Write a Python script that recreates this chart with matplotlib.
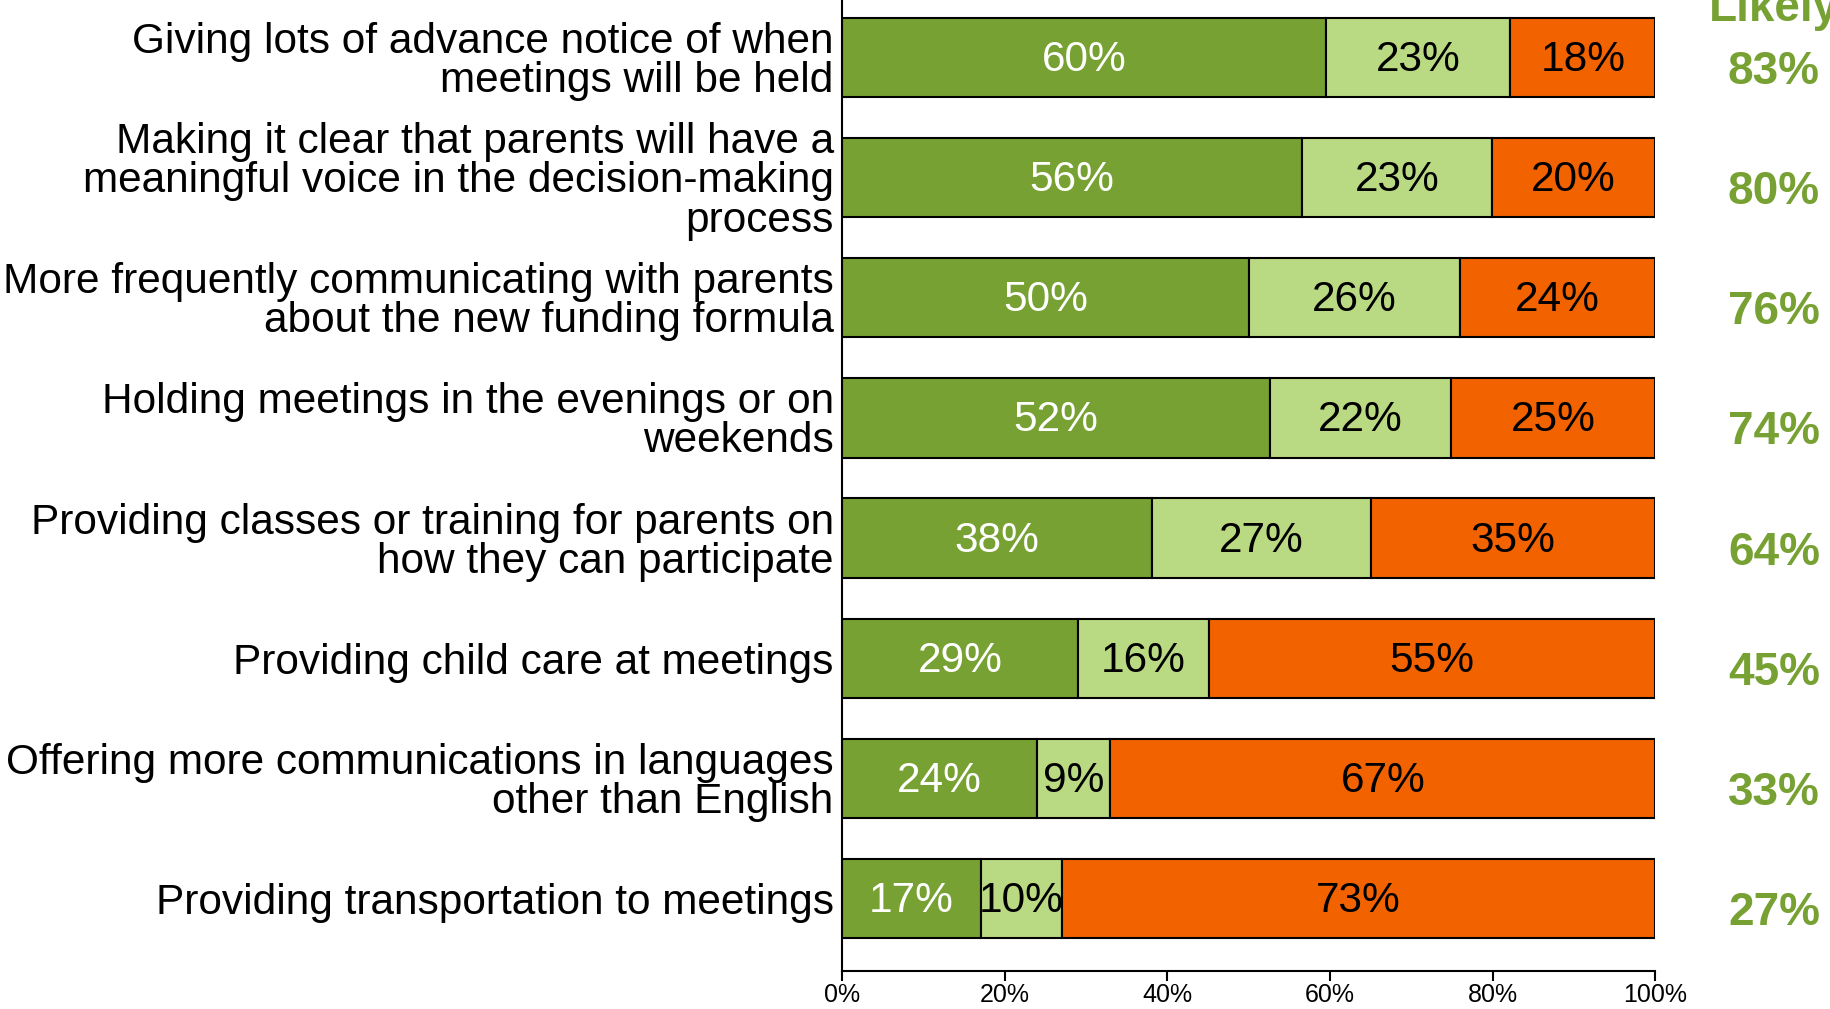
import matplotlib
matplotlib.use("Agg")
import matplotlib.pyplot as plt
import numpy as np

plt.rcParams['font.family'] = ['Liberation Sans', 'DejaVu Sans']

# categories, top to bottom
categories = [
    "Giving lots of advance notice of when\nmeetings will be held",
    "Making it clear that parents will have a\nmeaningful voice in the decision-making\nprocess",
    "More frequently communicating with parents\nabout the new funding formula",
    "Holding meetings in the evenings or on\nweekends",
    "Providing classes or training for parents on\nhow they can participate",
    "Providing child care at meetings",
    "Offering more communications in languages\nother than English",
    "Providing transportation to meetings",
]

# segment widths
very_likely = [59.5, 56.6, 50.0, 52.6, 38.1, 29.0, 24.0, 17.1]
somewhat_likely = [22.7, 23.3, 26.0, 22.3, 27.0, 16.1, 9.0, 9.9]
not_likely = [17.8, 20.1, 24.0, 25.1, 34.9, 54.9, 67.0, 73.0]

# printed labels
very_labels = [60, 56, 50, 52, 38, 29, 24, 17]
somewhat_labels = [23, 23, 26, 22, 27, 16, 9, 10]
not_labels = [18, 20, 24, 25, 35, 55, 67, 73]
likely_total = [83, 80, 76, 74, 64, 45, 33, 27]

c_dark = "#77A132"
c_light = "#B9D982"
c_orange = "#F26300"

fig = plt.figure(figsize=(18.31, 10.09), dpi=100)
ax = fig.add_axes([0.4599, 0.0377, 0.4441, 0.9623])

y = np.arange(len(categories))
h = 0.66
segs = [(very_likely, very_labels, c_dark, "white"),
        (somewhat_likely, somewhat_labels, c_light, "black"),
        (not_likely, not_labels, c_orange, "black")]
left = np.zeros(len(categories))
for vals, labs, col, tcol in segs:
    vals = np.array(vals)
    ax.barh(y, vals, left=left, height=h, color=col, edgecolor="black", linewidth=1.5)
    for yi, l, v, lab in zip(y, left, vals, labs):
        ax.text(l + v / 2, yi + 0.02, f"{lab}%", ha="center", va="center",
                color=tcol, fontsize=30.5)
    left += vals

ax.set_xlim(0, 100)
ax.set_ylim(7.6, -0.476)
ax.set_yticks(y)
ax.set_yticklabels(categories, fontsize=30.5, linespacing=0.97)
ax.tick_params(axis="y", length=0, pad=6)
ax.set_xticks([0, 20, 40, 60, 80, 100])
ax.set_xticklabels([f"{v}%" for v in [0, 20, 40, 60, 80, 100]], fontsize=18)
ax.tick_params(axis="x", length=7, width=1.5, pad=2)
for lab in ax.get_yticklabels():
    lab.set_multialignment("right")

ax.spines["top"].set_visible(False)
ax.spines["right"].set_visible(False)
ax.spines["left"].set_linewidth(1.5)
ax.spines["bottom"].set_linewidth(1.5)

# likely totals on the right
for yi, t in zip(y, likely_total):
    ax.text(114.6, yi + 0.12, f"{t}%", ha="center", va="center",
            color=c_dark, fontsize=33, fontweight="bold", clip_on=False)
ax.text(114.6, -0.30, "Likely", ha="center", va="baseline",
        color=c_dark, fontsize=33, fontweight="bold", clip_on=False)

fig.savefig("out.png", dpi=100)
